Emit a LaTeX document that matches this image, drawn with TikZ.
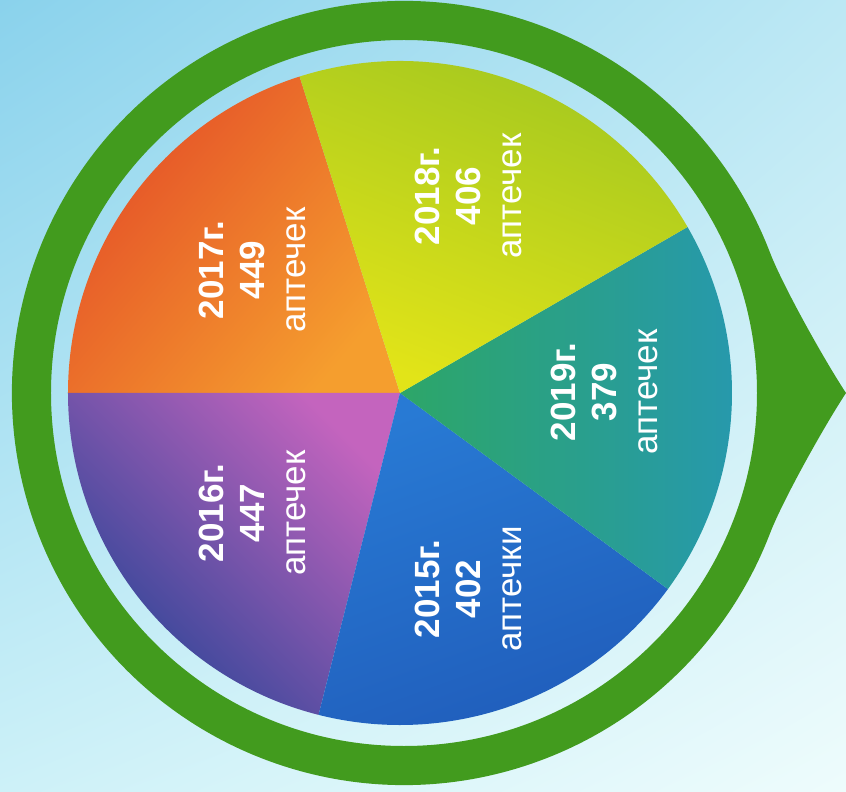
\documentclass[tikz,border=0pt]{standalone}
\usepackage{fontspec}
\setmainfont{Liberation Sans}
\usetikzlibrary{shadings}
\definecolor{bgA}{RGB}{138,210,236}
\definecolor{bgB}{RGB}{188,232,244}
\definecolor{bgC}{RGB}{205,241,248}
\definecolor{bgD}{RGB}{238,252,252}
\definecolor{ringgreen}{RGB}{66,155,30}
\definecolor{orA}{RGB}{228,78,40}
\definecolor{orB}{RGB}{245,158,46}
\definecolor{puA}{RGB}{40,68,150}
\definecolor{puB}{RGB}{196,100,190}
\definecolor{blA}{RGB}{40,122,212}
\definecolor{blB}{RGB}{32,92,186}
\definecolor{teA}{RGB}{45,166,104}
\definecolor{teB}{RGB}{38,152,176}
\definecolor{yeA}{RGB}{160,198,32}
\definecolor{yeB}{RGB}{226,228,24}
\tikzset{
  lbl/.style={text=white, rotate=90, align=center, inner sep=0pt,
    font=\fontsize{35}{41}\selectfont},
}
\begin{document}
\begin{tikzpicture}[x=1pt,y=1pt]
\useasboundingbox (-400,-399) rectangle (446,393);
\shade[upper left=bgA, upper right=bgB, lower left=bgC, lower right=bgD] (-400,-399) rectangle (446,393);
% green ring with tip
\coordinate (rc) at (4,0);
\coordinate (tip) at (446,0);
\fill[ringgreen, even odd rule] ([shift={(21:392)}]rc) arc[start angle=21, end angle=339, radius=392]
  .. controls (382.5,-107.8) and (424,-33.4) .. (tip)
  .. controls (424,33.4) and (382.5,107.8) .. cycle
  (rc) circle[radius=353];
% slices
\shade[top color=orA, bottom color=orB, shading angle=50] (0,0) -- (107.6:332) arc[start angle=107.6, end angle=180, radius=332] -- cycle;
\shade[top color=puB, bottom color=puA, shading angle=-45] (0,0) -- (180:332) arc[start angle=180, end angle=255.8, radius=332] -- cycle;
\shade[top color=blA, bottom color=blB, shading angle=20] (0,0) -- (255.8:332) arc[start angle=255.8, end angle=323.8, radius=332] -- cycle;
\shade[top color=teA, bottom color=teB, shading angle=90] (0,0) -- (323.8:332) arc[start angle=323.8, end angle=390, radius=332] -- cycle;
\shade[top color=yeA, bottom color=yeB, shading angle=-21] (0,0) -- (30:332) arc[start angle=30, end angle=107.6, radius=332] -- cycle;
% labels
\node[lbl] (y2017) at (-148,123) {\textbf{2017г.}\\\textbf{449}\\аптечек};
\node[lbl] (y2016) at (-148,-120) {\textbf{2016г.}\\\textbf{447}\\аптечек};
\node[lbl] (y2015) at (68,-196) {\textbf{2015г.}\\\textbf{402}\\аптечки};
\node[lbl] (y2018) at (68,197) {\textbf{2018г.}\\\textbf{406}\\аптечек};
\node[lbl] (y2019) at (204,1) {\textbf{2019г.}\\\textbf{379}\\аптечек};
\end{tikzpicture}
\end{document}
